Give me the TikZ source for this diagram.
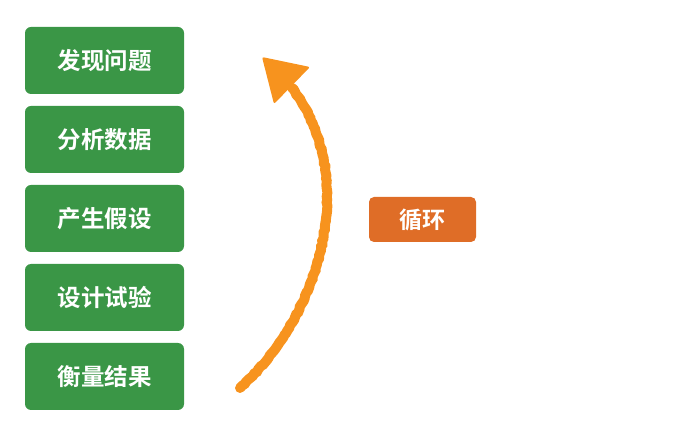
\documentclass[tikz,border=0pt]{standalone}
\usepackage{fontspec}
\newfontfamily\cjk{Noto Sans CJK SC Bold}
\usetikzlibrary{decorations.pathmorphing}
\definecolor{stepgreen}{HTML}{3A9646}
\definecolor{loopor}{HTML}{DF6D27}
\definecolor{crayon}{HTML}{F7931E}
\begin{document}
\begin{tikzpicture}[x=1pt,y=-1pt,
  stepbox/.style={fill=stepgreen,rounded corners=6pt,minimum width=159pt,minimum height=67pt,text=white,font=\cjk\fontsize{23.5}{23.5}\selectfont,inner sep=0pt},
  loopbox/.style={fill=loopor,rounded corners=5pt,minimum width=107pt,minimum height=45pt,text=white,font=\cjk\fontsize{23}{23}\selectfont,inner sep=0pt}]
\useasboundingbox (0,0) rectangle (691,435);
\node[stepbox] (s1) at (104.5,60.5) {发现问题};
\node[stepbox] (s2) at (104.5,139.5) {分析数据};
\node[stepbox] (s3) at (104.5,218.5) {产生假设};
\node[stepbox] (s4) at (104.5,297.5) {设计试验};
\node[stepbox] (s5) at (104.5,376.5) {衡量结果};
\node[loopbox] (loop) at (422.5,219.5) {循环};
\coordinate (a0) at (240,388);
\coordinate (a1) at (292,88);
\coordinate (tip) at (262,57);
\coordinate (h1) at (310,67);
\coordinate (h2) at (274,104);
\draw[crayon,line width=10pt,line cap=round,decorate,decoration={random steps,segment length=3pt,amplitude=0.6pt}]
  (a0) .. controls (318,318) and (362,180) .. (a1);
\fill[crayon,rounded corners=2pt] (tip) -- (h1) -- (h2) -- cycle;
\end{tikzpicture}
\end{document}
